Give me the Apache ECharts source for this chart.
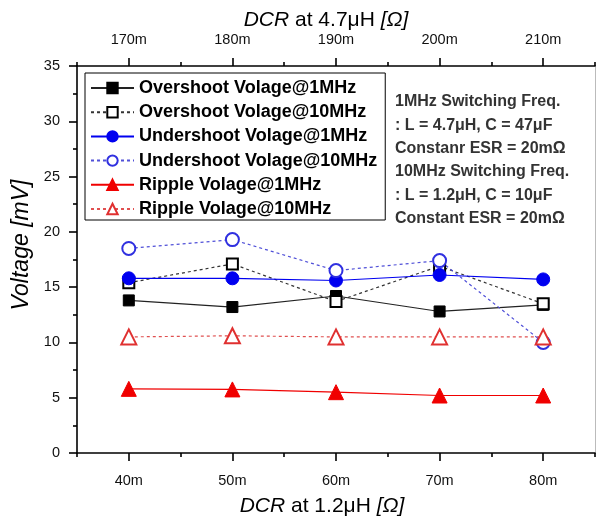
<!DOCTYPE html>
<html>
<head>
<meta charset="utf-8">
<script src="https://cdn.jsdelivr.net/npm/echarts@6/dist/echarts.min.js"></script>
<style>
  html, body { margin: 0; padding: 0; background: #fff; }
  #chart { width: 596px; height: 521px; }
</style>
</head>
<body>
<div id="chart"></div>
<script>
  // bottom axis: DCR at 1.2uH, top axis: DCR at 4.7uH
  var dcrBottom = ['40m', '50m', '60m', '70m', '80m']
  var dcrTop = ['170m', '180m', '190m', '200m', '210m']

  var overshoot1M = [13.8, 13.2, 14.2, 12.8, 13.4]
  var overshoot10M = [15.4, 17.1, 13.7, 16.9, 13.5]
  var undershoot1M = [15.8, 15.8, 15.6, 16.1, 15.7]
  var undershoot10M = [18.5, 19.3, 16.5, 17.4, 10.0]
  var ripple1M = [5.8, 5.75, 5.5, 5.2, 5.2]
  var ripple10M = [10.5, 10.6, 10.5, 10.5, 10.5]

  var notes = [
    '1MHz Switching Freq.',
    ': L = 4.7μH, C = 47μF',
    'Constanr ESR = 20mΩ',
    '10MHz Switching Freq.',
    ': L = 1.2μH, C = 10μF',
    'Constant ESR = 20mΩ'
  ]

  var font = 'Liberation Sans, Arial, sans-serif'
  var chart = echarts.init(document.getElementById('chart'))

  function catAxis(data, pos, major, margin) {
    return {
      type: 'category',
      position: pos,
      data: data,
      boundaryGap: true,
      axisLine: { show: major, lineStyle: { color: '#000', width: 1.6 } },
      axisTick: {
        show: true,
        alignWithLabel: major,
        inside: false,
        length: major ? 8 : 4,
        lineStyle: { color: '#000', width: 1.6 }
      },
      axisLabel: {
        show: major,
        color: '#111',
        fontSize: 14.5,
        fontFamily: font,
        margin: margin || 14
      },
      splitLine: { show: false }
    }
  }

  var titleRich = {
    i: { fontSize: 21, fontFamily: font, fontStyle: 'italic', fill: '#000', color: '#000' }
  }

  function line(name, data, symbol, size, color, dashed, lineColor) {
    return {
      name: name,
      type: 'line',
      xAxisIndex: 0,
      data: data,
      symbol: symbol,
      symbolSize: size,
      showSymbol: true,
      itemStyle: { color: color, borderColor: color, borderWidth: 1 },
      lineStyle: { color: lineColor || color, width: 1.2, type: dashed ? [3, 3] : 'solid' },
      animation: false
    }
  }

  chart.setOption({
    backgroundColor: '#fff',
    grid: { left: 77, top: 66, width: 518, height: 387, containLabel: false },
    legend: {
      orient: 'vertical',
      left: 85,
      top: 73,
      padding: [6, 8, 2, 5],
      itemGap: 6.2,
      itemWidth: 43,
      itemHeight: 13,
      borderColor: '#000',
      borderWidth: 1,
      backgroundColor: '#fff',
      textStyle: { fontSize: 18, lineHeight: 18, fontWeight: 'bold', color: '#000', fontFamily: font },
      data: ['Overshoot Volage@1MHz', 'Overshoot Volage@10MHz', 'Undershoot Volage@1MHz',
        'Undershoot Volage@10MHz', 'Ripple Volage@1MHz', 'Ripple Volage@10MHz']
    },
    xAxis: [
      catAxis(dcrBottom, 'bottom', true, 20),
      catAxis(dcrBottom, 'bottom', false),
      catAxis(dcrTop, 'top', true, 19),
      catAxis(dcrTop, 'top', false)
    ],
    yAxis: [{
      type: 'value',
      min: 0,
      max: 35,
      interval: 5,
      position: 'left',
      axisLine: { show: true, lineStyle: { color: '#000', width: 1.6 } },
      axisTick: { show: true, length: 8, lineStyle: { color: '#000', width: 1.6 } },
      minorTick: { show: true, splitNumber: 2, length: 4, lineStyle: { color: '#000', width: 1.6 } },
      axisLabel: { color: '#111', fontSize: 14.5, fontFamily: font, margin: 17 },
      splitLine: { show: false }
    }, {
      type: 'value',
      min: 0,
      max: 35,
      position: 'right',
      axisLine: { show: true, lineStyle: { color: '#bbb', width: 1 } },
      axisTick: { show: false },
      axisLabel: { show: false },
      splitLine: { show: false }
    }],
    graphic: [{
      type: 'text',
      left: 395,
      top: 90,
      style: {
        text: notes.join('\n'),
        font: 'bold 16px ' + font,
        lineHeight: 23.4,
        fill: '#333'
      }
    }, {
      type: 'text',
      x: 326,
      y: 20,
      style: {
        text: '{i|DCR} at 4.7μH {i|[Ω]}',
        font: '21px ' + font,
        fill: '#000',
        align: 'center',
        verticalAlign: 'middle',
        rich: titleRich
      }
    }, {
      type: 'text',
      x: 322,
      y: 506,
      style: {
        text: '{i|DCR} at 1.2μH {i|[Ω]}',
        font: '21px ' + font,
        fill: '#000',
        align: 'center',
        verticalAlign: 'middle',
        rich: titleRich
      }
    }, {
      type: 'text',
      x: 22,
      y: 245,
      rotation: Math.PI / 2,
      style: {
        text: 'Voltage [mV]',
        font: 'italic 23px ' + font,
        fill: '#000',
        align: 'center',
        verticalAlign: 'middle'
      }
    }],
    series: [
      line('Overshoot Volage@1MHz', overshoot1M, 'rect', 11, '#000', false, '#222'),
      line('Overshoot Volage@10MHz', overshoot10M, 'emptyRect', 11, '#000', true, '#333'),
      line('Undershoot Volage@1MHz', undershoot1M, 'circle', 13, '#0000f0', false),
      line('Undershoot Volage@10MHz', undershoot10M, 'emptyCircle', 13, '#3030e0', true, '#5050d8'),
      line('Ripple Volage@1MHz', ripple1M, 'triangle', 15, '#f00000', false),
      line('Ripple Volage@10MHz', ripple10M, 'emptyTriangle', 15, '#e03030', true, '#e05050')
    ]
  })
</script>
</body>
</html>
